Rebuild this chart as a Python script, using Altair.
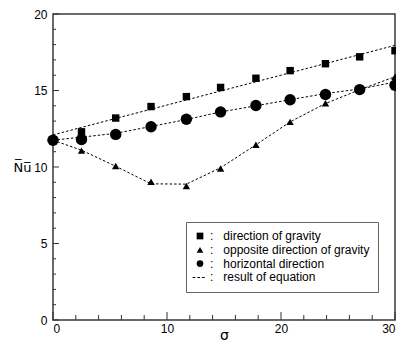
import altair as alt
import pandas as pd

# ---- data ----
sigma = [0, 2.5, 5.5, 8.6, 11.7, 14.7, 17.8, 20.8, 23.9, 26.9, 30]
nu_gravity = [11.75, 12.3, 13.2, 13.95, 14.6, 15.2, 15.8, 16.3, 16.75, 17.2, 17.6]
nu_opposite = [11.75, 11.07, 10.06, 9.04, 8.76, 9.9, 11.45, 12.95, 14.17, 15.06, 15.9]
nu_horizontal = [11.75, 11.8, 12.13, 12.63, 13.12, 13.6, 14.02, 14.4, 14.74, 15.06, 15.34]

eq_sigma_gravity = [0, 30]
eq_gravity = [12.1, 17.95]
eq_opposite = [11.75, 11.1, 10.05, 8.9, 8.88, 9.95, 11.45, 12.95, 14.15, 15.05, 15.9]
eq_horizontal = [11.75, 11.95, 12.2, 12.65, 13.1, 13.6, 14.0, 14.4, 14.8, 15.1, 15.55]

series_names = ["direction of gravity", "opposite direction of gravity",
                "horizontal direction", "result of equation"]

y_major = [0, 5, 10, 15, 20]
y_minor = [v for v in range(0, 21) if v not in y_major]
x_major = [0, 10, 20, 30]
x_minor = [v for v in range(0, 31, 2) if v not in x_major]

# ---- tables ----
pts = pd.DataFrame(
    [{"sigma": s, "nu": v, "series": series_names[0]} for s, v in zip(sigma, nu_gravity)]
    + [{"sigma": s, "nu": v, "series": series_names[1]} for s, v in zip(sigma, nu_opposite)]
    + [{"sigma": s, "nu": v, "series": series_names[2]} for s, v in zip(sigma, nu_horizontal)]
)
horiz = pd.DataFrame({"sigma": sigma, "nu": nu_horizontal})
eq = pd.DataFrame(
    [{"sigma": s, "nu": v, "curve": "g"} for s, v in zip(eq_sigma_gravity, eq_gravity)]
    + [{"sigma": s, "nu": v, "curve": "o"} for s, v in zip(sigma, eq_opposite)]
    + [{"sigma": s, "nu": v, "curve": "h"} for s, v in zip(sigma, eq_horizontal)]
)

W, H = 342, 306

xs = alt.Scale(domain=[0, 30], nice=False, zero=False)
ys = alt.Scale(domain=[0, 20], nice=False, zero=False)

x_axis = alt.Axis(values=x_major, format="d", title="σ", ticks=False, tickSize=0, domain=False,
                  grid=False, labelPadding=3, labelFontSize=12, labelFont="Liberation Sans",
                  labelColor="black", titleFontSize=14, titleFont="DejaVu Sans",
                  titleFontWeight="normal", titleColor="black", titleBaseline="alphabetic",
                  titleY=19)
y_axis = alt.Axis(values=y_major, format="d", title="N\u0305u\u0305", ticks=False, tickSize=0,
                  domain=False, grid=False, labelPadding=6, labelFontSize=12,
                  labelFont="Liberation Sans", labelColor="black", titleAngle=0,
                  titleAlign="center", titleBaseline="middle", titleX=-31, titleY=153,
                  titleFontSize=13, titleFont="DejaVu Sans", titleFontWeight="normal",
                  titleColor="black")

X = alt.X("sigma:Q", scale=xs, axis=x_axis)
Y = alt.Y("nu:Q", scale=ys, axis=y_axis)

lines = alt.Chart(eq).mark_line(color="black", strokeWidth=1, strokeDash=[2.5, 2]).encode(
    x=X, y=Y, detail="curve:N")

dash_path = ("M-2.2,-0.15H-1.4V0.15H-2.2Z"
             "M-0.8,-0.15H0V0.15H-0.8Z"
             "M0.6,-0.15H1.4V0.15H0.6Z")
points = alt.Chart(pts).mark_point(filled=True, color="black", opacity=1, size=55).encode(
    x=X, y=Y,
    shape=alt.Shape("series:N",
                    scale=alt.Scale(domain=series_names,
                                    range=["square", "triangle-up", "circle", dash_path]),
                    legend=alt.Legend(title=None, orient="none", legendX=133, legendY=208,
                                      labelExpr="':\u00a0\u00a0\u00a0' + datum.label")),
)
big_circles = alt.Chart(horiz).mark_circle(color="black", opacity=1, size=130).encode(x=X, y=Y)

ytick_major = alt.Chart(pd.DataFrame({"nu": y_major})).mark_rule(color="#333").encode(
    y=Y, x=alt.value(0), x2=alt.value(6))
ytick_minor = alt.Chart(pd.DataFrame({"nu": y_minor})).mark_rule(color="#333").encode(
    y=Y, x=alt.value(0), x2=alt.value(3))
xtick_major = alt.Chart(pd.DataFrame({"sigma": x_major})).mark_rule(color="#333").encode(
    x=X, y=alt.value(H), y2=alt.value(H - 8))
xtick_minor = alt.Chart(pd.DataFrame({"sigma": x_minor})).mark_rule(color="#333").encode(
    x=X, y=alt.value(H), y2=alt.value(H - 5))

chart = alt.layer(ytick_minor, ytick_major, xtick_minor, xtick_major, lines, points,
                  big_circles).properties(
    width=W, height=H,
    autosize=alt.AutoSizeParams(type="none"),
    padding={"left": 45, "top": 6, "right": 1, "bottom": 21},
).configure_view(
    stroke="#3a3a3a", strokeWidth=1.5
).configure_legend(
    strokeColor="#666", fillColor="white", padding=8, labelFontSize=12,
    labelFont="Liberation Sans", labelColor="black", symbolSize=45,
    symbolFillColor="black", symbolStrokeColor="black", symbolStrokeWidth=0.5,
    rowPadding=1.8, labelOffset=4, cornerRadius=0,
)

chart.save("out.html", embed_options={"renderer": "svg", "actions": False})
